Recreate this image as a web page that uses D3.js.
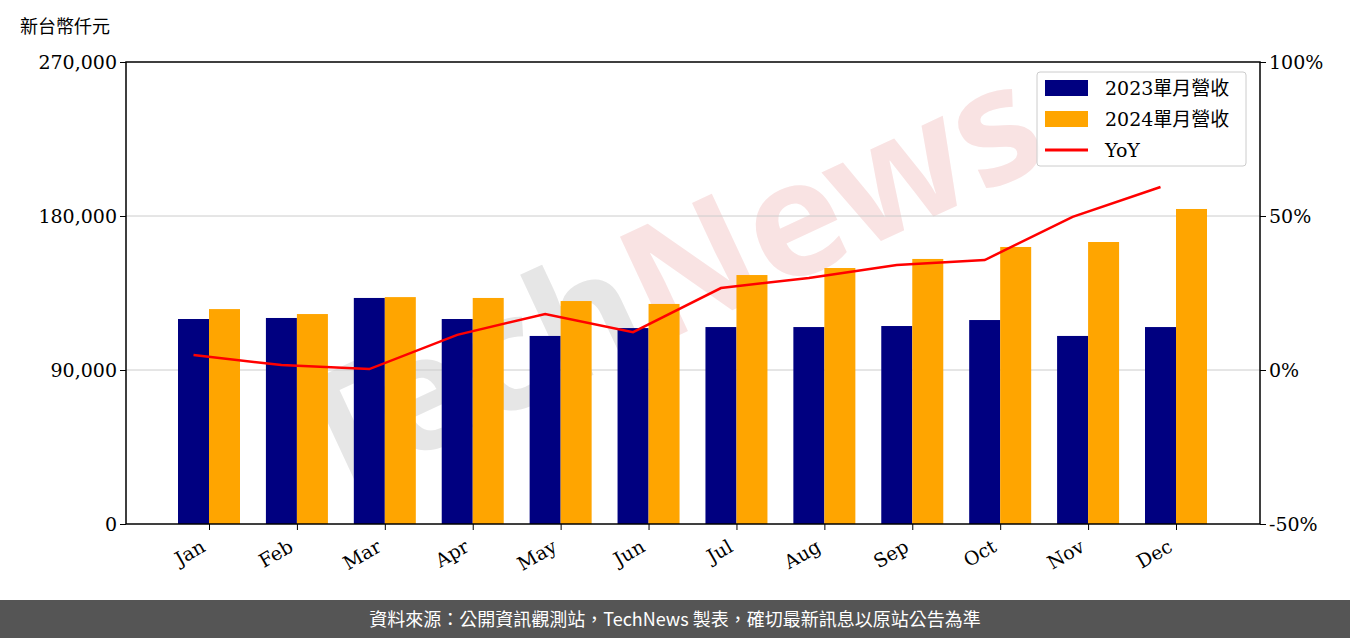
<!DOCTYPE html><html><head><meta charset="utf-8">
<script src="https://cdn.jsdelivr.net/npm/d3@7"></script>
<style>body{margin:0;background:#fff}</style></head><body>
<svg id="c" width="1350" height="638"></svg>
<script>
const months=["Jan","Feb","Mar","Apr","May","Jun","Jul","Aug","Sep","Oct","Nov","Dec"];
const rev2023=[119800,120400,132100,119800,109900,114500,115100,115100,115700,119200,109900,115100];
const rev2024=[125600,122700,132600,132100,130300,128600,145500,149600,154900,161900,164800,184100];
const yoy=[4.9,1.6,0.3,11.4,18.2,12.3,26.6,29.9,34.1,35.7,49.7,59.4];
const leftTicks=[0,90000,180000,270000];
const rightTicks=[-50,0,50,100];
const svg=d3.select("#c");
const L=126,R=1260,T=62,B=524;
const serif="DejaVu Serif, serif";
const x=d3.scalePoint().domain(months).range([209,1176]);
const bw=31;
const y=d3.scaleLinear().domain([0,270000]).range([B,T]);
const y2=d3.scaleLinear().domain([-50,100]).range([B,T]);
const wm=svg.append("text").attr("x",690).attr("y",330).attr("text-anchor","middle")
 .attr("transform","rotate(-25,690,330)").attr("font-family","Noto Sans").attr("font-weight","bold")
 .attr("font-size",160);
wm.append("tspan").attr("fill","#e6e6e6").text("Tech");
wm.append("tspan").attr("fill","#f9e3e3").text("News");
svg.append("g").selectAll("line").data([90000,180000]).join("line")
 .attr("x1",L).attr("x2",R).attr("y1",d=>y(d)).attr("y2",d=>y(d)).attr("stroke","#ccc");
svg.append("g").selectAll("rect").data(rev2023).join("rect").attr("x",(d,i)=>x(months[i])-bw).attr("width",bw)
 .attr("y",d=>y(d)).attr("height",d=>B-y(d)).attr("fill","#000080");
svg.append("g").selectAll("rect").data(rev2024).join("rect").attr("x",(d,i)=>x(months[i])).attr("width",bw)
 .attr("y",d=>y(d)).attr("height",d=>B-y(d)).attr("fill","#FFA500");
svg.append("path").datum(yoy).attr("fill","none").attr("stroke","red").attr("stroke-width",2.5)
 .attr("d",d3.line().x((d,i)=>x(months[i])-bw/2).y(d=>y2(d)));
svg.append("rect").attr("x",L).attr("y",T).attr("width",R-L).attr("height",B-T).attr("fill","none").attr("stroke","#000").attr("stroke-width",1.5);
const ga=svg.append("g").attr("transform",`translate(${L},0)`).call(d3.axisLeft(y).tickValues(leftTicks).tickFormat(d3.format(",")).tickSizeOuter(0));
const gr=svg.append("g").attr("transform",`translate(${R},0)`).call(d3.axisRight(y2).tickValues(rightTicks).tickFormat(d=>d+"%").tickSizeOuter(0));
const gb=svg.append("g").attr("transform",`translate(0,${B})`).call(d3.axisBottom(x).tickSizeOuter(0));
[ga,gr,gb].forEach(g=>{g.select(".domain").remove();g.selectAll("text").attr("font-family",serif).attr("font-size",19).attr("fill","#000");});
gb.selectAll("text").attr("x",0).attr("y",0).attr("dy",0).attr("transform","translate(-10,14) rotate(-30)").attr("text-anchor","end").attr("dominant-baseline","hanging");
svg.append("text").attr("x",20).attr("y",33).attr("font-family","Noto Sans CJK TC").attr("font-size",18).text("新台幣仟元");
const lg=svg.append("g");
lg.append("rect").attr("x",1037).attr("y",72).attr("width",209).attr("height",94).attr("rx",3).attr("fill","#fff").attr("fill-opacity",0.85).attr("stroke","#ccc");
const items=[["2023單月營收","#000080","rect"],["2024單月營收","#FFA500","rect"],["YoY","red","line"]];
items.forEach((it,i)=>{const cy=88+i*31;
 if(it[2]=="rect") lg.append("rect").attr("x",1045).attr("y",cy-8).attr("width",43).attr("height",16).attr("fill",it[1]);
 else lg.append("line").attr("x1",1045).attr("x2",1088).attr("y1",cy).attr("y2",cy).attr("stroke",it[1]).attr("stroke-width",3);
 lg.append("text").attr("x",1105).attr("y",cy+7).attr("font-family","DejaVu Serif, Noto Sans CJK TC").attr("font-size",19).text(it[0]);});
svg.append("rect").attr("x",0).attr("y",600).attr("width",1350).attr("height",38).attr("fill","#555");
svg.append("text").attr("x",675).attr("y",626).attr("text-anchor","middle").attr("fill","#fff").attr("font-family","Noto Sans CJK TC").attr("font-size",18)
 .text("資料來源：公開資訊觀測站，TechNews 製表，確切最新訊息以原站公告為準");
</script></body></html>
